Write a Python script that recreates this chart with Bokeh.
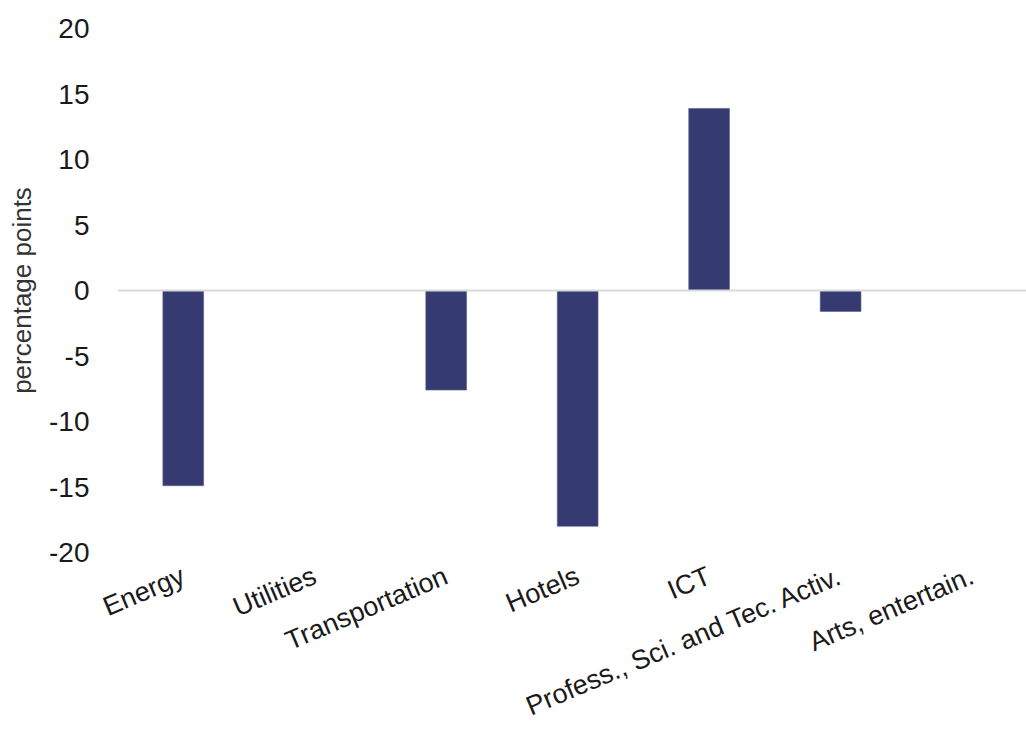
from bokeh.plotting import figure
from bokeh.models import Range1d, FixedTicker, Span, ColumnDataSource
from bokeh.embed import file_html
from bokeh.resources import INLINE
import math

categories = ["Energy", "Utilities", "Transportation", "Hotels", "ICT",
              "Profess., Sci. and Tec. Activ.", "Arts, entertain."]
values = [-14.9, 0.0, -7.6, -18.0, 13.9, -1.6, 0.0]
y_ticks = [-20, -15, -10, -5, 0, 5, 10, 15, 20]

xpos = list(range(len(categories)))
src = ColumnDataSource(dict(x=xpos, top=values, cat=categories))

p = figure(width=1026, height=738, output_backend="svg", toolbar_location=None,
           x_range=Range1d(-0.5, 6.414), y_range=Range1d(-20, 20),
           min_border_left=117, min_border_right=0, min_border_top=28,
           min_border_bottom=186)
p.outline_line_color = None
p.background_fill_color = "white"
p.border_fill_color = "white"
p.xgrid.visible = False
p.ygrid.visible = False

p.add_layout(Span(location=0, dimension="width", line_color="#d9d9d9", line_width=2))

p.vbar(x="x", top="top", bottom=0, width=0.31, source=src,
       fill_color="#353B70", line_color="#5a6090", line_width=0.6)

# y axis
ya = p.yaxis[0]
ya.ticker = FixedTicker(ticks=y_ticks)
ya.major_label_overrides = {t: str(t) for t in y_ticks}
ya.axis_line_color = None
ya.major_tick_line_color = None
ya.minor_tick_line_color = None
ya.major_tick_out = 0
ya.major_label_standoff = 28
ya.major_label_text_font = "Liberation Sans"
ya.major_label_text_font_size = "28px"
ya.major_label_text_color = "#1a1a1a"
ya.axis_label = "percentage points"
ya.axis_label_text_font = "Liberation Sans"
ya.axis_label_text_font_size = "26px"
ya.axis_label_text_font_style = "normal"
ya.axis_label_text_color = "#333333"
ya.axis_label_standoff = 9

# x axis
xa = p.xaxis[0]
xa.ticker = FixedTicker(ticks=xpos)
xa.major_label_overrides = {i: c for i, c in zip(xpos, categories)}
xa.axis_line_color = None
xa.major_tick_line_color = None
xa.minor_tick_line_color = None
xa.major_tick_out = 0
xa.major_label_standoff = 22
xa.major_label_orientation = math.radians(23)
xa.major_label_text_font = "Liberation Sans"
xa.major_label_text_font_size = "27px"
xa.major_label_text_color = "#1a1a1a"

open("out.html", "w").write(file_html(p, INLINE))
